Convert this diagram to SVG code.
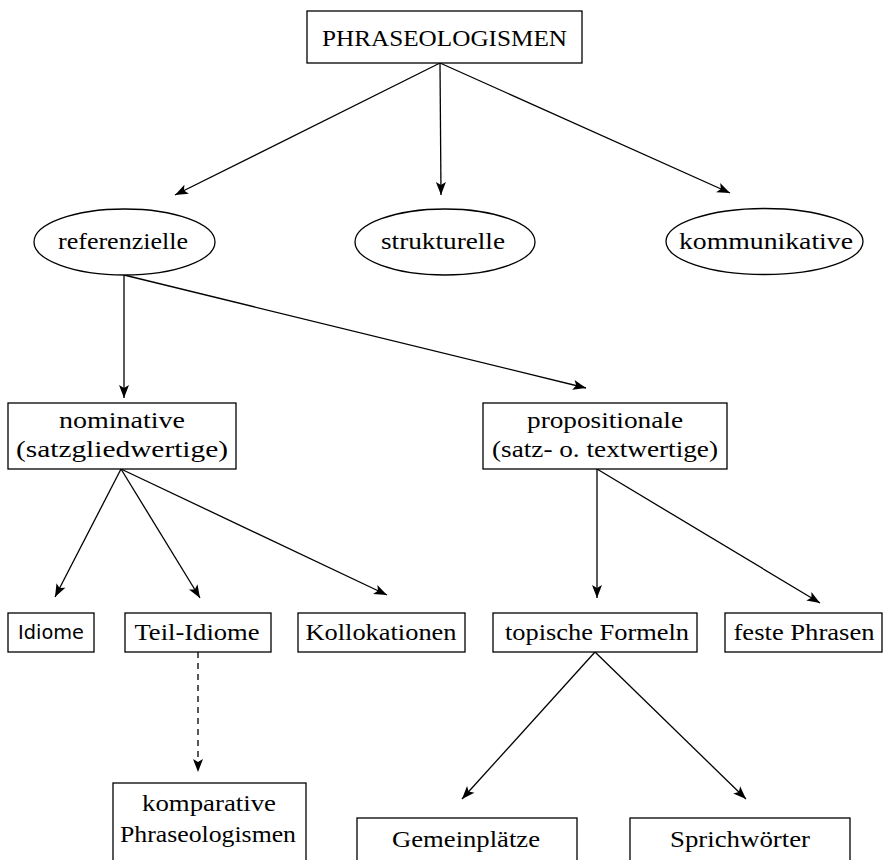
<svg xmlns="http://www.w3.org/2000/svg" width="887" height="860" viewBox="0 0 887 860">
<style>
.box{fill:#fff;stroke:#000;stroke-width:1.3}
.t{font-family:"Liberation Serif","DejaVu Serif",serif;font-size:24px;fill:#000;text-anchor:middle}
.s{font-family:"DejaVu Sans","Liberation Sans",sans-serif;font-size:20px;fill:#000;text-anchor:middle}
.c{stroke:#000;stroke-width:1.3;fill:none;marker-end:url(#ah)}
.d{stroke-dasharray:6,5}
</style>
<defs>
<marker id="ah" markerUnits="userSpaceOnUse" markerWidth="14" markerHeight="12" refX="13" refY="5" orient="auto" overflow="visible">
<path d="M0,0 L13,5 L0,10 L3,5 Z" fill="#000"/>
</marker>
</defs>
<rect width="887" height="860" fill="#fff"/>
<g id="connectors">
<line class="c" x1="440" y1="63" x2="175" y2="195"/>
<line class="c" x1="440" y1="63" x2="441" y2="195"/>
<line class="c" x1="440" y1="63" x2="730" y2="193"/>
<line class="c" x1="124" y1="275" x2="124" y2="398"/>
<line class="c" x1="124" y1="275" x2="586" y2="388"/>
<line class="c" x1="121" y1="469" x2="55" y2="597"/>
<line class="c" x1="121" y1="469" x2="200" y2="598"/>
<line class="c" x1="121" y1="469" x2="387" y2="595"/>
<line class="c" x1="597" y1="469" x2="597" y2="598"/>
<line class="c" x1="597" y1="469" x2="820" y2="603"/>
<line class="c d" x1="198" y1="652" x2="198" y2="772"/>
<line class="c" x1="595" y1="652" x2="462" y2="799"/>
<line class="c" x1="595" y1="652" x2="746" y2="799"/>
</g>
<g id="phraseologismen">
<rect class="box" x="307" y="11" width="275" height="52"/>
<text class="t" x="444.5" y="46" textLength="245" lengthAdjust="spacingAndGlyphs">PHRASEOLOGISMEN</text>
</g>
<g id="referenzielle">
<ellipse class="box" cx="124.5" cy="242" rx="90.5" ry="33"/>
<text class="t" x="123" y="249" textLength="130" lengthAdjust="spacingAndGlyphs">referenzielle</text>
</g>
<g id="strukturelle">
<ellipse class="box" cx="445" cy="242" rx="90" ry="33"/>
<text class="t" x="443" y="249" textLength="124" lengthAdjust="spacingAndGlyphs">strukturelle</text>
</g>
<g id="kommunikative">
<ellipse class="box" cx="764.5" cy="241.5" rx="98.5" ry="33"/>
<text class="t" x="766" y="249" textLength="174" lengthAdjust="spacingAndGlyphs">kommunikative</text>
</g>
<g id="nominative">
<rect class="box" x="8" y="403" width="228" height="66"/>
<text class="t" x="122" y="428" textLength="126" lengthAdjust="spacingAndGlyphs">nominative</text>
<text class="t" x="122" y="457" textLength="212" lengthAdjust="spacingAndGlyphs">(satzgliedwertige)</text>
</g>
<g id="propositionale">
<rect class="box" x="483" y="403" width="244" height="66"/>
<text class="t" x="605" y="428" textLength="156" lengthAdjust="spacingAndGlyphs">propositionale</text>
<text class="t" x="605" y="457" textLength="226" lengthAdjust="spacingAndGlyphs">(satz- o. textwertige)</text>
</g>
<g id="idiome">
<rect class="box" x="8" y="613" width="86" height="39"/>
<text class="s" x="51" y="639" textLength="66" lengthAdjust="spacingAndGlyphs">Idiome</text>
</g>
<g id="teil-idiome">
<rect class="box" x="125" y="613" width="146" height="39"/>
<text class="t" x="197" y="640" textLength="125" lengthAdjust="spacingAndGlyphs">Teil-Idiome</text>
</g>
<g id="kollokationen">
<rect class="box" x="298" y="613" width="167" height="39"/>
<text class="t" x="381" y="640" textLength="151" lengthAdjust="spacingAndGlyphs">Kollokationen</text>
</g>
<g id="topische-formeln">
<rect class="box" x="493" y="613" width="204" height="39"/>
<text class="t" x="597" y="640" textLength="184" lengthAdjust="spacingAndGlyphs">topische Formeln</text>
</g>
<g id="feste-phrasen">
<rect class="box" x="725" y="613" width="157" height="39"/>
<text class="t" x="804" y="640" textLength="141" lengthAdjust="spacingAndGlyphs">feste Phrasen</text>
</g>
<g id="komparative">
<rect class="box" x="113" y="783" width="193" height="90"/>
<text class="t" x="209" y="811" textLength="134" lengthAdjust="spacingAndGlyphs">komparative</text>
<text class="t" x="208" y="842" textLength="176" lengthAdjust="spacingAndGlyphs">Phraseologismen</text>
</g>
<g id="gemeinplaetze">
<rect class="box" x="357" y="818" width="220" height="60"/>
<text class="t" x="466" y="847" textLength="148" lengthAdjust="spacingAndGlyphs">Gemeinplätze</text>
</g>
<g id="sprichwoerter">
<rect class="box" x="630" y="818" width="220" height="60"/>
<text class="t" x="740" y="847" textLength="140" lengthAdjust="spacingAndGlyphs">Sprichwörter</text>
</g>
</svg>
